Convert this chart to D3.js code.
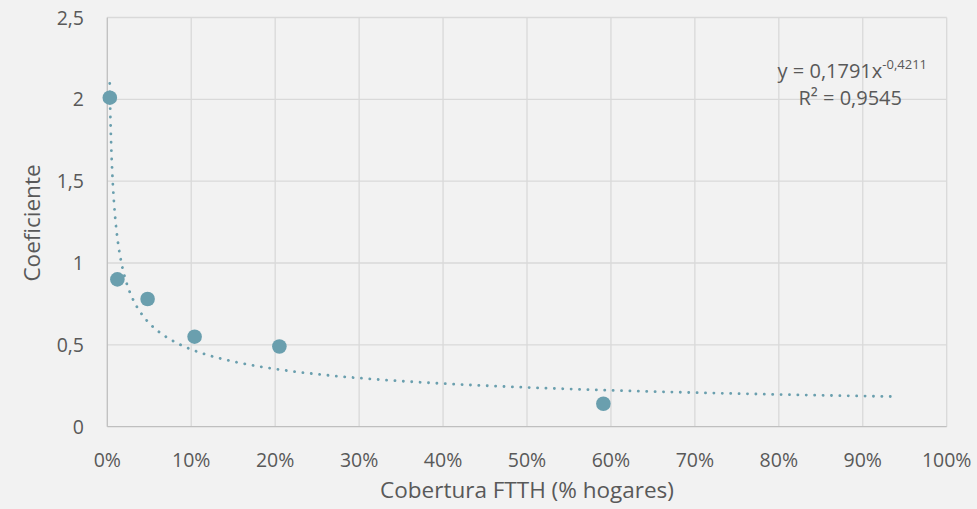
<!DOCTYPE html>
<html><head><meta charset="utf-8">
<script src="https://cdn.jsdelivr.net/npm/d3@7"></script>
<style>
html,body{margin:0;padding:0;background:#f2f2f2;}
svg{display:block;font-family:"Open Sans","Liberation Sans",sans-serif;}
</style></head>
<body><svg id="c" width="977" height="509"></svg>
<script>
// Data
const coverage = [0.003, 0.012, 0.048, 0.104, 0.205, 0.591];
const coefficient = [2.01, 0.90, 0.78, 0.55, 0.49, 0.14];
const xTicks = [0,0.1,0.2,0.3,0.4,0.5,0.6,0.7,0.8,0.9,1.0];
const yTicks = [0,0.5,1,1.5,2,2.5];
const trendA = 0.1791, trendB = -0.4211, trendR2 = 0.9545;
const trendRange = [0.0029, 0.94];

const svg = d3.select("#c");
const m = {left:107.3, right:946.7, top:17.5, bottom:426.7};
const x = d3.scaleLinear().domain([0,1]).range([m.left, m.right]);
const y = d3.scaleLinear().domain([0,2.5]).range([m.bottom, m.top]);
const txt = "#595959", col = "#6a9fae";
const fmt = d3.formatLocale({decimal:",", thousands:".", grouping:[3], currency:["","€"]});

// gridlines
svg.append("g").selectAll("line.h").data(yTicks.filter(d=>d>0)).join("line")
  .attr("x1",m.left).attr("x2",m.right).attr("y1",d=>y(d)).attr("y2",d=>y(d))
  .attr("stroke","#d9d9d9").attr("stroke-width",1.3);
svg.append("g").selectAll("line.v").data(xTicks.filter(d=>d>0)).join("line")
  .attr("x1",d=>x(d)).attr("x2",d=>x(d)).attr("y1",m.top).attr("y2",m.bottom)
  .attr("stroke","#d9d9d9").attr("stroke-width",1.3);
// axes lines
svg.append("line").attr("x1",m.left).attr("x2",m.left).attr("y1",m.top).attr("y2",m.bottom).attr("stroke","#bfbfbf").attr("stroke-width",1.3);
svg.append("line").attr("x1",m.left).attr("x2",m.right).attr("y1",m.bottom).attr("y2",m.bottom).attr("stroke","#bfbfbf").attr("stroke-width",1.3);

// tick labels
svg.append("g").selectAll("text").data(yTicks).join("text")
  .attr("x",84).attr("y",d=>y(d)).attr("dy","0.36em").attr("text-anchor","end")
  .attr("fill",txt).attr("font-size",19.5).text(d=>String(d).replace(".",","));
svg.append("g").selectAll("text").data(xTicks).join("text")
  .attr("x",d=>x(d)).attr("y",466.5).attr("text-anchor","middle")
  .attr("fill",txt).attr("font-size",19.5).text(d=>fmt.format(".0%")(d));

// axis titles
svg.append("text").attr("transform","translate(40,223) rotate(-90)").attr("text-anchor","middle")
  .attr("fill",txt).attr("font-size",22.5).text("Coeficiente");
svg.append("text").attr("x",527).attr("y",498).attr("text-anchor","middle")
  .attr("fill",txt).attr("font-size",22.5).text("Cobertura FTTH (% hogares)");

// trendline from fitted equation
const tx = d3.range(0,201).map(i=>Math.exp(Math.log(trendRange[0]) + (Math.log(trendRange[1])-Math.log(trendRange[0]))*i/200));
const line = d3.line().x(d=>x(d)).y(d=>y(trendA*Math.pow(d,trendB)));
svg.append("path").datum(tx).attr("d",line).attr("fill","none").attr("stroke",col)
  .attr("stroke-width",2.8).attr("stroke-linecap","round").attr("stroke-dasharray","0.1 8.3");

// points
svg.append("g").selectAll("circle").data(coverage.map((c,i)=>[c,coefficient[i]])).join("circle")
  .attr("cx",d=>x(d[0])).attr("cy",d=>y(d[1])).attr("r",7.3).attr("fill",col);

// equation
const eq = svg.append("text").attr("x",927).attr("y",77.5).attr("text-anchor","end").attr("fill",txt).attr("font-size",20);
eq.append("tspan").text("y = " + String(trendA).replace(".",",") + "x");
eq.append("tspan").attr("dy",-9).attr("font-size",13).text(String(trendB).replace(".",","));
svg.append("text").attr("x",902).attr("y",105).attr("text-anchor","end").attr("fill",txt).attr("font-size",20)
  .text("R² = " + String(trendR2).replace(".",","));
</script></body></html>
